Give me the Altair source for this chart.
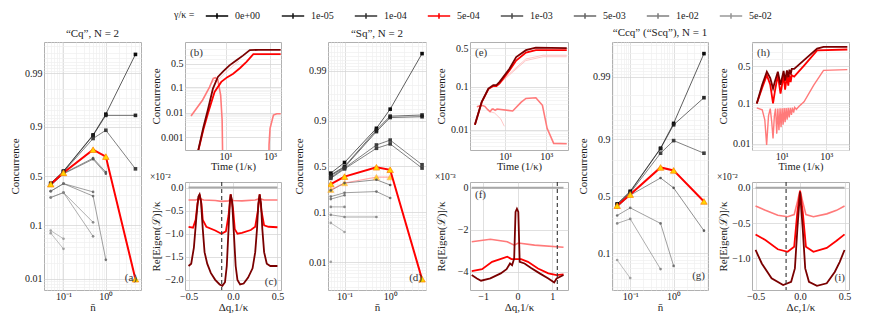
import math
import altair as alt
import pandas as pd

FONT = "Liberation Serif"

# ---------------- legend / series definitions ----------------
GAMMAS = ["0e+00", "1e-05", "1e-04", "5e-04", "1e-03", "5e-03", "1e-02", "5e-02"]
GAMMA_COLORS = ["#000000", "#1c1c1c", "#363636", "#ff0000", "#505050", "#686868", "#808080", "#999999"]
NBAR = [0.05, 0.1, 0.5, 1.0, 5.0]

# ---------------- panel (a)  "Cq", N = 2 ----------------
A_GAMMA = ["0e+00", "1e-05", "1e-04", "5e-04", "1e-03", "1e-03", "5e-03", "5e-03",
           "1e-02", "1e-02", "5e-02", "5e-02"]
A_CONC = [
    [0.416, 0.555, 0.863, 0.941, 0.9957],
    [0.42, 0.55, 0.86, 0.938, 0.938],
    [0.41, 0.545, 0.843, 0.886, 0.58],
    [0.41, 0.536, 0.765, 0.705, 0.0098],
    [0.40, 0.53, 0.69, 0.544, None],
    [0.395, 0.525, 0.68, 0.526, None],
    [0.337, 0.416, 0.33, None, None],
    [0.337, 0.416, 0.29, 0.023, None],
    [0.277, 0.323, 0.112, None, None],
    [0.277, 0.323, 0.063, None, None],
    [0.080, 0.057, None, None, None],
    [0.072, 0.037, None, None, None],
]

# ---------------- panel (d)  "Sq", N = 2 ----------------
D_GAMMA = ["0e+00", "1e-05", "1e-05", "1e-04", "1e-04", "5e-04", "1e-03", "5e-03", "5e-03",
           "1e-02", "1e-02", "5e-02", "5e-02"]
D_CONC = [
    [0.42, 0.547, 0.862, 0.94, 0.9956],
    [0.40, 0.50, 0.852, 0.918, 0.922],
    [0.39, 0.49, 0.842, 0.913, 0.916],
    [0.37, 0.48, 0.737, 0.78, 0.52],
    [0.36, 0.47, 0.705, 0.747, 0.48],
    [0.30, 0.38, 0.49, 0.46, 0.0044],
    [0.24, 0.31, 0.345, 0.29, None],
    [0.19, 0.22, 0.23, 0.18, None],
    [0.172, 0.20, None, None, None],
    [0.125, 0.125, None, None, None],
    [0.089, 0.081, 0.081, None, None],
    [0.062, 0.041, None, None, None],
    [0.0101, None, None, None, None],
]
D_FAINT_CONC = [0.246, 0.31, 0.374, 0.374, None]

# ---------------- panel (g)  "Ccq" ("Scq"), N = 1 ----------------
G_GAMMA = ["0e+00", "1e-05", "1e-04", "5e-04", "1e-03", "5e-03", "1e-02", "5e-02"]
G_CONC = [
    [0.427, 0.548, 0.864, 0.943, 0.9959],
    [0.42, 0.54, 0.862, 0.94, 0.978],
    [0.41, 0.532, 0.84, 0.895, 0.84],
    [0.41, 0.516, 0.752, 0.73, 0.45],
    [0.396, 0.51, 0.669, 0.58, 0.21],
    [0.323, 0.39, 0.26, 0.064, None],
    [0.26, 0.295, 0.057, None, None],
    [0.079, 0.041, None, None, None],
]

# ---------------- time panels (b), (e), (h) ----------------
B_DARK_T = [0.5, 1.0, 1.6, 2.7, 4.5, 8, 15, 31, 60, 123, 300, 3000]
B_DARK_C = [0.00015, 0.0025, 0.013, 0.088, 0.224, 0.33, 0.46, 0.58, 0.68, 0.78, 0.785, 0.785]
B_RED_T = [0.5, 1.0, 1.6, 3.2, 6.4, 12, 22, 45, 87, 177, 3000]
B_RED_C = [0.00015, 0.002, 0.009, 0.066, 0.153, 0.22, 0.28, 0.40, 0.54, 0.71, 0.71]
B_SALMON_T = [0.28, 0.93, 1.9, 2.8, 3.5, 4.5, 6, 7, 8, 850, 900, 1000, 1420, 2000, 3000]
B_SALMON_C = [0.0073, 0.032, 0.10, 0.20, 0.21, 0.175, 0.05, 0.005, 1e-6, 1e-6, 0.0005, 0.0023, 0.008, 0.009, 0.009]
B_FAINT_T = [2.2, 3, 4.5, 10, 22, 40]
B_FAINT_C = [0.13, 0.17, 0.175, 0.3, 0.45, 0.56]

E_DARK_T = [0.33, 0.71, 1.5, 2.6, 3.7, 5.3, 16, 34, 102, 309, 10000]
E_DARK_C = [0.013, 0.046, 0.092, 0.11, 0.11, 0.129, 0.238, 0.376, 0.47, 0.505, 0.5]
E_RED_T = [0.33, 0.71, 1.5, 2.6, 3.7, 5.3, 16, 34, 102, 309, 10000]
E_RED_C = [0.013, 0.045, 0.09, 0.105, 0.105, 0.12, 0.22, 0.33, 0.435, 0.47, 0.47]
E_FAINT1_T = [5.3, 16, 100, 700, 10000]
E_FAINT1_C = [0.12, 0.19, 0.35, 0.40, 0.40]
E_FAINT2_T = [5.3, 16, 100, 700, 10000]
E_FAINT2_C = [0.12, 0.18, 0.33, 0.38, 0.38]
E_SALMON_T = [0.41, 0.71, 1.0, 1.4, 1.8, 2.3, 2.6, 3.2, 4, 23, 60, 102, 310, 650, 1100, 2300, 10000]
E_SALMON_C = [0.035, 0.038, 0.036, 0.03, 0.027, 0.031, 0.031, 0.029, 0.031, 0.028, 0.045, 0.055,
              0.057, 0.038, 0.0107, 0.0046, 0.0045]
E_FAINTS_T = [1.8, 3, 6, 9]
E_FAINTS_C = [0.027, 0.025, 0.018, 0.012]

H_DARK_T = [0.74, 1.3, 2.1, 3, 4, 5, 6.6, 8.7, 12, 14, 17, 19.5, 22, 25, 28, 36, 100, 390, 760, 9000]
H_DARK_C = [0.099, 0.25, 0.42, 0.33, 0.21, 0.3, 0.42, 0.25, 0.43, 0.3, 0.44, 0.34, 0.45, 0.38, 0.46,
            0.46, 0.59, 0.74, 0.76, 0.76]
H_RED_T = [0.74, 1.3, 2.1, 3, 4, 5, 6.6, 8.7, 12, 14, 17, 19.5, 22, 25, 28, 36, 100, 390, 9000]
H_RED_C = [0.099, 0.22, 0.37, 0.25, 0.099, 0.2, 0.37, 0.165, 0.36, 0.2, 0.36, 0.24, 0.37, 0.28, 0.37,
           0.35, 0.51, 0.72, 0.73]
H_SALMON_T = [0.74, 1.3, 1.7, 2.06, 2.5, 3.0, 3.5, 4.0, 4.6, 5.2, 5.9, 6.6, 7.4, 8.3, 9.2, 10.3, 11.4,
              12.7, 14, 15.6, 17.3, 19.3, 21.5, 24, 27, 30, 34, 38, 45, 60, 100, 275, 760, 9000]
H_SALMON_C = [0.078, 0.07, 0.04, 0.0093, 0.05, 0.075, 0.035, 0.0136, 0.05, 0.075, 0.018, 0.075, 0.022,
              0.076, 0.026, 0.076, 0.03, 0.077, 0.035, 0.077, 0.04, 0.078, 0.046, 0.078, 0.053, 0.079,
              0.06, 0.08, 0.072, 0.085, 0.108, 0.245, 0.44, 0.45]

# ---------------- eigenvalue panels (c), (f), (i) (scaled units) ----------------
C_DARK_X = [-0.5, -0.47, -0.44, -0.41, -0.39, -0.376, -0.36, -0.34, -0.32, -0.29, -0.25, -0.2, -0.15,
            -0.12, -0.09, -0.07, -0.05, -0.035, -0.026, -0.01, 0.01, 0.03, 0.05, 0.08, 0.12, 0.17,
            0.22, 0.25, 0.27, 0.285, 0.30, 0.315, 0.33, 0.35, 0.38, 0.42, 0.5]
C_DARK_Y = [-1.7, -1.65, -1.3, -0.6, -0.2, -0.15, -0.3, -0.9, -1.4, -1.65, -1.85, -2.0, -2.1, -2.13,
            -2.05, -1.7, -0.9, -0.3, -0.15, -0.3, -1.0, -1.7, -2.0, -2.1, -2.08, -1.95, -1.75, -1.4,
            -0.9, -0.35, -0.15, -0.35, -0.9, -1.4, -1.65, -1.7, -1.7]
C_RED_X = [-0.5, -0.45, -0.42, -0.40, -0.376, -0.355, -0.34, -0.3, -0.2, -0.13, -0.08, -0.05, -0.026,
           0.0, 0.02, 0.05, 0.1, 0.2, 0.25, 0.28, 0.30, 0.32, 0.35, 0.4, 0.5]
C_RED_Y = [-0.85, -0.87, -0.7, -0.35, -0.15, -0.35, -0.7, -0.85, -0.93, -1.0, -0.95, -0.6, -0.15,
           -0.45, -0.9, -1.0, -0.98, -0.92, -0.85, -0.5, -0.15, -0.5, -0.82, -0.85, -0.86]
C_SALMON_X = [-0.5, -0.42, -0.376, -0.33, -0.2, -0.13, -0.05, -0.026, 0.0, 0.1, 0.25, 0.30, 0.35, 0.5]
C_SALMON_Y = [-0.27, -0.27, -0.24, -0.27, -0.28, -0.3, -0.29, -0.25, -0.28, -0.29, -0.27, -0.24, -0.27, -0.27]
C_ZERO_X = [-0.5, 0.5]
C_DASH = -0.127

F_DARK_X = [-1.33, -1.18, -1.06, -0.79, -0.49, -0.32, -0.22, -0.16, -0.10, -0.06, -0.02, 0.02, 0.06,
            0.20, 0.39, 0.64, 0.89, 1.06, 1.13, 1.23, 1.33]
F_DARK_Y = [-4.15, -4.31, -4.42, -4.31, -4.07, -3.87, -3.6, -3.68, -3.36, -1.15, -1.0, -1.15, -3.52,
            -3.6, -3.81, -4.07, -4.31, -4.5, -4.31, -4.23, -4.15]
F_RED_X = [-1.33, -1.03, -0.74, -0.44, -0.30, -0.18, -0.05, 0.10, 0.30, 0.59, 0.89, 1.13, 1.33]
F_RED_Y = [-3.96, -3.87, -3.52, -3.36, -3.28, -3.39, -3.39, -3.39, -3.52, -3.84, -4.07, -4.15, -4.12]
F_SALMON_X = [-1.33, -0.79, -0.30, -0.10, 0.02, 0.49, 1.33]
F_SALMON_Y = [-2.57, -2.45, -2.57, -2.73, -2.63, -2.73, -2.83]
F_ZERO_X = [-1.33, 1.33]
F_DASH = 1.15

I_SALMON_X = [-0.5, -0.39, -0.25, -0.14, -0.066, -0.03, 0.0, 0.03, 0.066, 0.15, 0.30, 0.41, 0.5]
I_SALMON_Y = [-0.258, -0.32, -0.39, -0.41, -0.38, -0.2, -0.037, -0.2, -0.38, -0.41, -0.37, -0.32, -0.258]
I_RED_X = [-0.5, -0.39, -0.25, -0.14, -0.066, -0.03, 0.0, 0.03, 0.066, 0.15, 0.30, 0.41, 0.5]
I_RED_Y = [-0.66, -0.74, -0.87, -0.905, -0.835, -0.34, -0.05, -0.34, -0.835, -0.905, -0.85, -0.75, -0.66]
I_DARK_X = [-0.5, -0.43, -0.32, -0.19, -0.10, -0.058, -0.03, 0.0, 0.03, 0.058, 0.10, 0.19, 0.30, 0.39, 0.445, 0.5]
I_DARK_Y = [-0.88, -1.07, -1.28, -1.375, -1.33, -1.14, -0.58, -0.06, -0.58, -1.14, -1.33, -1.385, -1.35,
            -1.19, -1.05, -0.88]
I_ZERO_X = [-0.5, 0.5]
I_DASH = -0.157

# ---------------- tick lists ----------------
CONC_MAJOR = [0.001, 0.01, 0.1, 0.5, 0.9, 0.99]
CONC_MINOR = ([0.002, 0.003, 0.004, 0.005, 0.006, 0.007, 0.008, 0.009]
              + [0.02, 0.03, 0.04, 0.05, 0.06, 0.07, 0.08, 0.09]
              + [0.2, 0.3, 0.4, 0.6, 0.7, 0.8]
              + [0.91, 0.92, 0.93, 0.94, 0.95, 0.96, 0.97, 0.98]
              + [0.991, 0.992, 0.993, 0.994, 0.995, 0.996, 0.997, 0.998])
NBAR_TICKS = [0.04, 0.05, 0.06, 0.07, 0.08, 0.09, 0.1, 0.2, 0.3, 0.4, 0.5, 0.6, 0.7, 0.8, 0.9,
              1, 2, 3, 4, 5, 6]
TIME_TICKS = [10, 1000]

DARK = "#7a0000"
RED = "#ff0000"
SALMON = "#ff7a7a"
FAINT = "#ffb0b0"

MAJOR_GRID = "#d2d2d2"
MINOR_GRID = "#efefef"
EXT = 22  # fixed y-axis extent so every panel has the same left overhang
BIG_H = 248
SMALL_H = 108


def logit(p):
    return math.log(p / (1.0 - p))


def logit_axis(majors, minors, ydom, title):
    inside = lambda p: ydom[0] <= logit(p) <= ydom[1]
    maj = [p for p in majors if inside(p)]
    mino = [p for p in minors if inside(p)]
    vals = [logit(p) for p in maj] + [logit(p) for p in mino]
    expr = " : ".join(f"datum.value == {repr(logit(p))} ? '{p:g}'" for p in maj) + " : ''"
    test = " || ".join(f"datum.value == {repr(logit(p))}" for p in maj)
    return alt.Axis(values=vals, labelExpr=expr, title=title, labelOverlap=False,
                    minExtent=EXT, maxExtent=EXT,
                    gridColor={"condition": {"test": test, "value": MAJOR_GRID}, "value": MINOR_GRID})


LEGEND = alt.Legend(orient="none", legendX=130, legendY=-34, direction="horizontal", columns=8,
                    title="γ/κ =", titleOrient="left", titlePadding=14,
                    symbolType="M-1.6,0H1.6M0,-0.4V0.4", symbolSize=196, symbolStrokeWidth=1.6,
                    symbolOpacity=1, labelOffset=10, columnPadding=17, padding=0,
                    labelFontSize=10, titleFontSize=10)

COLOR = alt.Color("g:N", scale=alt.Scale(domain=GAMMAS, range=GAMMA_COLORS), legend=LEGEND)


def series_df(gammas, concs):
    rows = []
    for i, (g, vals) in enumerate(zip(gammas, concs)):
        for n, c in zip(NBAR, vals):
            if c is not None:
                rows.append({"id": i, "g": g, "n": n, "c": c})
    return pd.DataFrame(rows)


def letter(text, x, y, align):
    return alt.Chart(pd.DataFrame({"label": [text]})).mark_text(
        font=FONT, fontSize=11, align=align, baseline="middle", color="#333333"
    ).encode(text="label:N", x=alt.value(x), y=alt.value(y))


def big_panel(gammas, concs, faint, xdom, ydom, width, title, lab, lpos):
    df = series_df(gammas, concs)
    xt = [v for v in NBAR_TICKS if xdom[0] <= v <= xdom[1]]
    x = alt.X("n:Q", scale=alt.Scale(type="log", domain=xdom, nice=False),
              axis=alt.Axis(values=xt, title="n̄", labelOverlap=False, titlePadding=0, labelPadding=1,
                            labelExpr="datum.value == 0.1 ? '10⁻¹' : datum.value == 1 ? '10⁰' : ''",
                            gridColor={"condition": {"test": "datum.value == 0.1 || datum.value == 1",
                                                     "value": MAJOR_GRID}, "value": MINOR_GRID}))
    y = alt.Y("ly:Q", scale=alt.Scale(domain=ydom, nice=False, zero=False),
              axis=logit_axis(CONC_MAJOR, CONC_MINOR, ydom, "Concurrence"))
    base = alt.Chart(df).transform_calculate(ly="log(datum.c/(1-datum.c))").encode(x=x, y=y)
    grey = base.transform_filter(alt.datum.g != "5e-04").mark_line(
        strokeWidth=0.9, opacity=0.7, clip=True).encode(color=COLOR, detail="id:N")
    red = base.transform_filter(alt.datum.g == "5e-04").mark_line(
        strokeWidth=2, clip=True).encode(color=COLOR, detail="id:N")
    sq = base.transform_filter(alt.FieldOneOfPredicate(field="g", oneOf=GAMMAS[:3])).mark_point(
        shape="square", filled=True, size=13, opacity=0.95, clip=True).encode(color=COLOR)
    dots = base.transform_filter(alt.FieldOneOfPredicate(field="g", oneOf=GAMMAS[4:])).mark_point(
        shape="circle", filled=True, size=7, opacity=0.9, clip=True).encode(color=COLOR)
    tri = base.transform_filter(alt.datum.g == "5e-04").mark_point(
        shape="triangle-up", filled=True, size=42, fill="#ffd400", stroke="#ff8000",
        strokeWidth=0.7, opacity=1, clip=True)
    layers = [grey]
    if faint is not None:
        fdf = pd.DataFrame({"n": [n for n, c in zip(NBAR, faint) if c is not None],
                            "c": [c for c in faint if c is not None]})
        fbase = alt.Chart(fdf).transform_calculate(ly="log(datum.c/(1-datum.c))").encode(x=x, y=y)
        layers += [fbase.mark_line(color="#ff6a6a", strokeWidth=1.1, opacity=0.55, clip=True),
                   fbase.mark_point(shape="triangle-up", filled=True, size=38, fill="#ffd400",
                                    stroke="#ff9a40", strokeWidth=0.6, opacity=0.8)]
    layers += [red, sq, dots, tri, letter(lab, lpos[0], lpos[1], "right")]
    return alt.layer(*layers).properties(width=width, height=BIG_H, title=title)


def time_panel(series, xdom, ydom, width, lab):
    x = alt.X("t:Q", scale=alt.Scale(type="log", domain=xdom, nice=False),
              axis=alt.Axis(values=TIME_TICKS, title="Time (1/κ)", labelOverlap=False,
                            labelExpr="datum.value == 10 ? '10¹' : datum.value == 1000 ? '10³' : ''",
                            gridColor=MAJOR_GRID, titlePadding=0, labelPadding=1, titleFontSize=10.5))
    y = alt.Y("ly:Q", scale=alt.Scale(domain=ydom, nice=False, zero=False),
              axis=logit_axis(CONC_MAJOR[:4], CONC_MINOR[:22], ydom, "Concurrence"))
    layers = []
    for ts, cs, col, w, op in series:
        df = pd.DataFrame({"t": ts, "c": cs})
        layers.append(alt.Chart(df).transform_calculate(ly="log(datum.c/(1-datum.c))")
                      .mark_line(color=col, strokeWidth=w, opacity=op, clip=True)
                      .encode(x=x, y=y))
    layers.append(letter(lab, 5, 11, "left"))
    # blank title so the top overhang equals the big panels' (keeps plot tops aligned)
    return alt.layer(*layers).properties(width=width, height=SMALL_H, title=" ")


def eigen_panel(series, zero_x, dash, xdom, ydom, xvals, yvals, fmt_x, fmt_y, width, scale_txt, lab, lpos, lalign, xtitle):
    x = alt.X("x:Q", scale=alt.Scale(domain=xdom, nice=False, zero=False),
              axis=alt.Axis(values=xvals, format=fmt_x, title=xtitle, gridColor=MAJOR_GRID,
                            titlePadding=0, labelPadding=1))
    y = alt.Y("y:Q", scale=alt.Scale(domain=ydom, nice=False, zero=False),
              axis=alt.Axis(values=yvals, format=fmt_y, title="Re[Eigen(ℒ)]/κ", gridColor=MAJOR_GRID,
                            minExtent=EXT, maxExtent=EXT))
    layers = [alt.Chart(pd.DataFrame({"x": zero_x, "y": [0.0] * len(zero_x)}))
              .mark_line(color="#a8a8a8", strokeWidth=2, clip=True).encode(x=x, y=y)]
    for xs, ys, col, w in series:
        layers.append(alt.Chart(pd.DataFrame({"x": xs, "y": ys}))
                      .mark_line(color=col, strokeWidth=w, clip=True).encode(x=x, y=y))
    layers.append(alt.Chart(pd.DataFrame({"x": [dash]})).mark_rule(
        color="#333333", strokeDash=[4, 3], strokeWidth=1.1).encode(x="x:Q"))
    layers.append(letter(lab, lpos[0], lpos[1], lalign))
    return alt.layer(*layers).properties(
        width=width, height=SMALL_H,
        title=alt.TitleParams(scale_txt, anchor="start", fontSize=9.5, offset=0))


pa = big_panel(A_GAMMA, A_CONC, None, [0.0347, 6.76], [-5.1, 6.0], 97, "“Cq”, N = 2", "(a)", (93, 236))
pd_ = big_panel(D_GAMMA, D_CONC, D_FAINT_CONC, [0.0434, 6.1], [-5.94, 5.98], 98, "“Sq”, N = 2", "(d)", (94, 236))
pg = big_panel(G_GAMMA, G_CONC, None, [0.038, 6.2], [-3.61, 5.94], 96, "“Ccq” (“Scq”), N = 1", "(g)", (93, 234))

pb = time_panel([
    (B_FAINT_T, B_FAINT_C, FAINT, 1.0, 0.7),
    (B_SALMON_T, B_SALMON_C, SALMON, 1.6, 1.0),
    (B_RED_T, B_RED_C, RED, 1.8, 1.0),
    (B_DARK_T, B_DARK_C, DARK, 1.8, 1.0),
], [0.15, 3100], [-8.1, 2.03], 96, "(b)")
pe = time_panel([
    (E_FAINT1_T, E_FAINT1_C, FAINT, 1.0, 0.7),
    (E_FAINT2_T, E_FAINT2_C, FAINT, 1.0, 0.7),
    (E_FAINTS_T, E_FAINTS_C, FAINT, 1.0, 0.7),
    (E_SALMON_T, E_SALMON_C, SALMON, 1.6, 1.0),
    (E_RED_T, E_RED_C, RED, 1.8, 1.0),
    (E_DARK_T, E_DARK_C, DARK, 1.8, 1.0),
], [0.19, 11500], [-5.75, 0.34], 98, "(e)")
ph = time_panel([
    (H_SALMON_T, H_SALMON_C, SALMON, 1.4, 1.0),
    (H_RED_T, H_RED_C, RED, 1.8, 1.0),
    (H_DARK_T, H_DARK_C, DARK, 1.8, 1.0),
], [0.45, 10700], [-4.97, 1.44], 97, "(h)")

pc = eigen_panel([
    (C_SALMON_X, C_SALMON_Y, SALMON, 1.6),
    (C_RED_X, C_RED_Y, RED, 1.8),
    (C_DARK_X, C_DARK_Y, DARK, 1.8),
], C_ZERO_X, C_DASH, [-0.54, 0.54], [-2.22, 0.12], [-0.5, 0.0, 0.5], [-2.0, -1.5, -1.0, -0.5, 0.0],
    ".1f", ".1f", 96, "×10⁻²", "(c)", (92, 100), "right", "Δq,1/κ")
pf = eigen_panel([
    (F_SALMON_X, F_SALMON_Y, SALMON, 1.6),
    (F_RED_X, F_RED_Y, RED, 1.8),
    (F_DARK_X, F_DARK_Y, DARK, 1.8),
], F_ZERO_X, F_DASH, [-1.38, 1.46], [-4.86, 0.27], [-1, 0, 1], [-4, -2, 0],
    "d", "d", 98, "×10⁻³", "(f)", (5, 13), "left", "Δq,1/κ")
pi = eigen_panel([
    (I_SALMON_X, I_SALMON_Y, SALMON, 1.6),
    (I_RED_X, I_RED_Y, RED, 1.8),
    (I_DARK_X, I_DARK_Y, DARK, 1.8),
], I_ZERO_X, I_DASH, [-0.54, 0.55], [-1.445, 0.08], [-0.5, 0.0, 0.5], [-1.0, -0.5, 0.0],
    ".1f", ".1f", 97, "×10⁻²", "(i)", (93, 96), "right", "Δc,1/κ")

chart = alt.hconcat(
    pa,
    alt.vconcat(pb, pc, spacing=32, bounds="flush"),
    pd_,
    alt.vconcat(pe, pf, spacing=32, bounds="flush"),
    pg,
    alt.vconcat(ph, pi, spacing=32, bounds="flush"),
    spacing=7,
).properties(
    padding={"left": 0, "top": 0, "right": 0, "bottom": 0}
).configure_axis(
    labelFont=FONT, titleFont=FONT, labelFontSize=10, titleFontSize=11, titleFontWeight="normal",
    labelColor="#222222", titleColor="#222222", domain=False, ticks=False, gridWidth=0.7,
    labelPadding=2, titlePadding=2
).configure_view(
    stroke="#b0b0b0", strokeWidth=1
).configure_title(
    font=FONT, fontSize=11, fontWeight="normal", color="#222222", offset=2
).configure_legend(
    labelFont=FONT, titleFont=FONT, labelColor="#222222", titleColor="#222222", titleFontWeight="normal"
)

chart.save("out.html", embed_options={"renderer": "svg", "actions": False})
